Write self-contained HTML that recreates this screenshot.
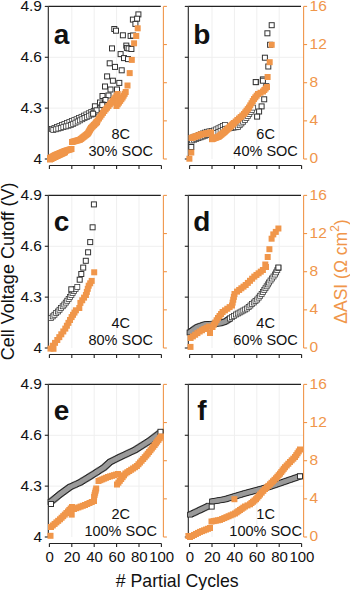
<!DOCTYPE html>
<html><head><meta charset="utf-8"><style>
html,body{margin:0;padding:0;background:#fff;width:350px;height:590px;overflow:hidden}
svg{display:block}
text{font-family:"Liberation Sans", sans-serif}
</style></head><body>
<svg width="350" height="590" viewBox="0 0 350 590" fill="#111">
<line x1="71.80" y1="6.40" x2="71.80" y2="159.00" stroke="#EFEFEF" stroke-width="1"/>
<line x1="94.20" y1="6.40" x2="94.20" y2="159.00" stroke="#EFEFEF" stroke-width="1"/>
<line x1="116.60" y1="6.40" x2="116.60" y2="159.00" stroke="#EFEFEF" stroke-width="1"/>
<line x1="139.00" y1="6.40" x2="139.00" y2="159.00" stroke="#EFEFEF" stroke-width="1"/>
<line x1="48.30" y1="108.13" x2="163.40" y2="108.13" stroke="#EFEFEF" stroke-width="1"/>
<line x1="48.30" y1="57.27" x2="163.40" y2="57.27" stroke="#EFEFEF" stroke-width="1"/>
<line x1="48.30" y1="6.40" x2="48.30" y2="159.00" stroke="#222" stroke-width="1.1"/>
<line x1="44.80" y1="159.00" x2="48.30" y2="159.00" stroke="#222" stroke-width="1.1"/>
<text x="42.00" y="163.60" text-anchor="end" font-size="15.5">4</text>
<line x1="44.80" y1="108.13" x2="48.30" y2="108.13" stroke="#222" stroke-width="1.1"/>
<text x="42.00" y="112.73" text-anchor="end" font-size="15.5">4.3</text>
<line x1="44.80" y1="57.27" x2="48.30" y2="57.27" stroke="#222" stroke-width="1.1"/>
<text x="42.00" y="61.87" text-anchor="end" font-size="15.5">4.6</text>
<line x1="44.80" y1="6.40" x2="48.30" y2="6.40" stroke="#222" stroke-width="1.1"/>
<text x="42.00" y="11.00" text-anchor="end" font-size="15.5">4.9</text>
<line x1="48.30" y1="6.40" x2="160.80" y2="6.40" stroke="#222" stroke-width="1.1"/>
<line x1="163.40" y1="6.40" x2="163.40" y2="159.00" stroke="#F0964A" stroke-width="1.1"/>
<line x1="163.40" y1="159.00" x2="166.90" y2="159.00" stroke="#F0964A" stroke-width="1.1"/>
<line x1="163.40" y1="120.85" x2="166.90" y2="120.85" stroke="#F0964A" stroke-width="1.1"/>
<line x1="163.40" y1="82.70" x2="166.90" y2="82.70" stroke="#F0964A" stroke-width="1.1"/>
<line x1="163.40" y1="44.55" x2="166.90" y2="44.55" stroke="#F0964A" stroke-width="1.1"/>
<line x1="163.40" y1="6.40" x2="166.90" y2="6.40" stroke="#F0964A" stroke-width="1.1"/>
<line x1="49.40" y1="165.50" x2="161.40" y2="165.50" stroke="#222" stroke-width="1.1"/>
<line x1="49.40" y1="165.50" x2="49.40" y2="169.00" stroke="#222" stroke-width="1.1"/>
<line x1="71.80" y1="165.50" x2="71.80" y2="169.00" stroke="#222" stroke-width="1.1"/>
<line x1="94.20" y1="165.50" x2="94.20" y2="169.00" stroke="#222" stroke-width="1.1"/>
<line x1="116.60" y1="165.50" x2="116.60" y2="169.00" stroke="#222" stroke-width="1.1"/>
<line x1="139.00" y1="165.50" x2="139.00" y2="169.00" stroke="#222" stroke-width="1.1"/>
<line x1="161.40" y1="165.50" x2="161.40" y2="169.00" stroke="#222" stroke-width="1.1"/>
<text x="61.60" y="44.40" text-anchor="middle" font-size="28" font-weight="bold">a</text>
<text x="120.70" y="138.50" text-anchor="middle" font-size="14.5">8C</text>
<text x="120.70" y="155.50" text-anchor="middle" font-size="14.5">30% SOC</text>
<line x1="212.00" y1="6.40" x2="212.00" y2="159.00" stroke="#EFEFEF" stroke-width="1"/>
<line x1="234.40" y1="6.40" x2="234.40" y2="159.00" stroke="#EFEFEF" stroke-width="1"/>
<line x1="256.80" y1="6.40" x2="256.80" y2="159.00" stroke="#EFEFEF" stroke-width="1"/>
<line x1="279.20" y1="6.40" x2="279.20" y2="159.00" stroke="#EFEFEF" stroke-width="1"/>
<line x1="188.30" y1="108.13" x2="303.60" y2="108.13" stroke="#EFEFEF" stroke-width="1"/>
<line x1="188.30" y1="57.27" x2="303.60" y2="57.27" stroke="#EFEFEF" stroke-width="1"/>
<line x1="188.30" y1="6.40" x2="188.30" y2="159.00" stroke="#222" stroke-width="1.1"/>
<line x1="184.80" y1="159.00" x2="188.30" y2="159.00" stroke="#222" stroke-width="1.1"/>
<line x1="184.80" y1="108.13" x2="188.30" y2="108.13" stroke="#222" stroke-width="1.1"/>
<line x1="184.80" y1="57.27" x2="188.30" y2="57.27" stroke="#222" stroke-width="1.1"/>
<line x1="184.80" y1="6.40" x2="188.30" y2="6.40" stroke="#222" stroke-width="1.1"/>
<line x1="188.30" y1="6.40" x2="301.00" y2="6.40" stroke="#222" stroke-width="1.1"/>
<line x1="303.60" y1="6.40" x2="303.60" y2="159.00" stroke="#F0964A" stroke-width="1.1"/>
<line x1="303.60" y1="159.00" x2="307.10" y2="159.00" stroke="#F0964A" stroke-width="1.1"/>
<text x="309.60" y="163.30" font-size="15.5" fill="#F0964A">0</text>
<line x1="303.60" y1="120.85" x2="307.10" y2="120.85" stroke="#F0964A" stroke-width="1.1"/>
<text x="309.60" y="125.15" font-size="15.5" fill="#F0964A">4</text>
<line x1="303.60" y1="82.70" x2="307.10" y2="82.70" stroke="#F0964A" stroke-width="1.1"/>
<text x="309.60" y="87.00" font-size="15.5" fill="#F0964A">8</text>
<line x1="303.60" y1="44.55" x2="307.10" y2="44.55" stroke="#F0964A" stroke-width="1.1"/>
<text x="309.60" y="48.85" font-size="15.5" fill="#F0964A">12</text>
<line x1="303.60" y1="6.40" x2="307.10" y2="6.40" stroke="#F0964A" stroke-width="1.1"/>
<text x="309.60" y="10.70" font-size="15.5" fill="#F0964A">16</text>
<line x1="189.60" y1="165.50" x2="301.60" y2="165.50" stroke="#222" stroke-width="1.1"/>
<line x1="189.60" y1="165.50" x2="189.60" y2="169.00" stroke="#222" stroke-width="1.1"/>
<line x1="212.00" y1="165.50" x2="212.00" y2="169.00" stroke="#222" stroke-width="1.1"/>
<line x1="234.40" y1="165.50" x2="234.40" y2="169.00" stroke="#222" stroke-width="1.1"/>
<line x1="256.80" y1="165.50" x2="256.80" y2="169.00" stroke="#222" stroke-width="1.1"/>
<line x1="279.20" y1="165.50" x2="279.20" y2="169.00" stroke="#222" stroke-width="1.1"/>
<line x1="301.60" y1="165.50" x2="301.60" y2="169.00" stroke="#222" stroke-width="1.1"/>
<text x="201.80" y="44.40" text-anchor="middle" font-size="28" font-weight="bold">b</text>
<text x="265.60" y="138.50" text-anchor="middle" font-size="14.5">6C</text>
<text x="265.60" y="155.50" text-anchor="middle" font-size="14.5">40% SOC</text>
<line x1="71.80" y1="195.40" x2="71.80" y2="348.00" stroke="#EFEFEF" stroke-width="1"/>
<line x1="94.20" y1="195.40" x2="94.20" y2="348.00" stroke="#EFEFEF" stroke-width="1"/>
<line x1="116.60" y1="195.40" x2="116.60" y2="348.00" stroke="#EFEFEF" stroke-width="1"/>
<line x1="139.00" y1="195.40" x2="139.00" y2="348.00" stroke="#EFEFEF" stroke-width="1"/>
<line x1="48.30" y1="297.13" x2="163.40" y2="297.13" stroke="#EFEFEF" stroke-width="1"/>
<line x1="48.30" y1="246.27" x2="163.40" y2="246.27" stroke="#EFEFEF" stroke-width="1"/>
<line x1="48.30" y1="195.40" x2="48.30" y2="348.00" stroke="#222" stroke-width="1.1"/>
<line x1="44.80" y1="348.00" x2="48.30" y2="348.00" stroke="#222" stroke-width="1.1"/>
<text x="42.00" y="352.60" text-anchor="end" font-size="15.5">4</text>
<line x1="44.80" y1="297.13" x2="48.30" y2="297.13" stroke="#222" stroke-width="1.1"/>
<text x="42.00" y="301.73" text-anchor="end" font-size="15.5">4.3</text>
<line x1="44.80" y1="246.27" x2="48.30" y2="246.27" stroke="#222" stroke-width="1.1"/>
<text x="42.00" y="250.87" text-anchor="end" font-size="15.5">4.6</text>
<line x1="44.80" y1="195.40" x2="48.30" y2="195.40" stroke="#222" stroke-width="1.1"/>
<text x="42.00" y="200.00" text-anchor="end" font-size="15.5">4.9</text>
<line x1="48.30" y1="195.40" x2="160.80" y2="195.40" stroke="#222" stroke-width="1.1"/>
<line x1="163.40" y1="195.40" x2="163.40" y2="348.00" stroke="#F0964A" stroke-width="1.1"/>
<line x1="163.40" y1="348.00" x2="166.90" y2="348.00" stroke="#F0964A" stroke-width="1.1"/>
<line x1="163.40" y1="309.85" x2="166.90" y2="309.85" stroke="#F0964A" stroke-width="1.1"/>
<line x1="163.40" y1="271.70" x2="166.90" y2="271.70" stroke="#F0964A" stroke-width="1.1"/>
<line x1="163.40" y1="233.55" x2="166.90" y2="233.55" stroke="#F0964A" stroke-width="1.1"/>
<line x1="163.40" y1="195.40" x2="166.90" y2="195.40" stroke="#F0964A" stroke-width="1.1"/>
<line x1="49.40" y1="354.50" x2="161.40" y2="354.50" stroke="#222" stroke-width="1.1"/>
<line x1="49.40" y1="354.50" x2="49.40" y2="358.00" stroke="#222" stroke-width="1.1"/>
<line x1="71.80" y1="354.50" x2="71.80" y2="358.00" stroke="#222" stroke-width="1.1"/>
<line x1="94.20" y1="354.50" x2="94.20" y2="358.00" stroke="#222" stroke-width="1.1"/>
<line x1="116.60" y1="354.50" x2="116.60" y2="358.00" stroke="#222" stroke-width="1.1"/>
<line x1="139.00" y1="354.50" x2="139.00" y2="358.00" stroke="#222" stroke-width="1.1"/>
<line x1="161.40" y1="354.50" x2="161.40" y2="358.00" stroke="#222" stroke-width="1.1"/>
<text x="61.60" y="231.40" text-anchor="middle" font-size="28" font-weight="bold">c</text>
<text x="120.70" y="327.50" text-anchor="middle" font-size="14.5">4C</text>
<text x="120.70" y="344.50" text-anchor="middle" font-size="14.5">80% SOC</text>
<line x1="212.00" y1="195.40" x2="212.00" y2="348.00" stroke="#EFEFEF" stroke-width="1"/>
<line x1="234.40" y1="195.40" x2="234.40" y2="348.00" stroke="#EFEFEF" stroke-width="1"/>
<line x1="256.80" y1="195.40" x2="256.80" y2="348.00" stroke="#EFEFEF" stroke-width="1"/>
<line x1="279.20" y1="195.40" x2="279.20" y2="348.00" stroke="#EFEFEF" stroke-width="1"/>
<line x1="188.30" y1="297.13" x2="303.60" y2="297.13" stroke="#EFEFEF" stroke-width="1"/>
<line x1="188.30" y1="246.27" x2="303.60" y2="246.27" stroke="#EFEFEF" stroke-width="1"/>
<line x1="188.30" y1="195.40" x2="188.30" y2="348.00" stroke="#222" stroke-width="1.1"/>
<line x1="184.80" y1="348.00" x2="188.30" y2="348.00" stroke="#222" stroke-width="1.1"/>
<line x1="184.80" y1="297.13" x2="188.30" y2="297.13" stroke="#222" stroke-width="1.1"/>
<line x1="184.80" y1="246.27" x2="188.30" y2="246.27" stroke="#222" stroke-width="1.1"/>
<line x1="184.80" y1="195.40" x2="188.30" y2="195.40" stroke="#222" stroke-width="1.1"/>
<line x1="188.30" y1="195.40" x2="301.00" y2="195.40" stroke="#222" stroke-width="1.1"/>
<line x1="303.60" y1="195.40" x2="303.60" y2="348.00" stroke="#F0964A" stroke-width="1.1"/>
<line x1="303.60" y1="348.00" x2="307.10" y2="348.00" stroke="#F0964A" stroke-width="1.1"/>
<text x="309.60" y="352.30" font-size="15.5" fill="#F0964A">0</text>
<line x1="303.60" y1="309.85" x2="307.10" y2="309.85" stroke="#F0964A" stroke-width="1.1"/>
<text x="309.60" y="314.15" font-size="15.5" fill="#F0964A">4</text>
<line x1="303.60" y1="271.70" x2="307.10" y2="271.70" stroke="#F0964A" stroke-width="1.1"/>
<text x="309.60" y="276.00" font-size="15.5" fill="#F0964A">8</text>
<line x1="303.60" y1="233.55" x2="307.10" y2="233.55" stroke="#F0964A" stroke-width="1.1"/>
<text x="309.60" y="237.85" font-size="15.5" fill="#F0964A">12</text>
<line x1="303.60" y1="195.40" x2="307.10" y2="195.40" stroke="#F0964A" stroke-width="1.1"/>
<text x="309.60" y="199.70" font-size="15.5" fill="#F0964A">16</text>
<line x1="189.60" y1="354.50" x2="301.60" y2="354.50" stroke="#222" stroke-width="1.1"/>
<line x1="189.60" y1="354.50" x2="189.60" y2="358.00" stroke="#222" stroke-width="1.1"/>
<line x1="212.00" y1="354.50" x2="212.00" y2="358.00" stroke="#222" stroke-width="1.1"/>
<line x1="234.40" y1="354.50" x2="234.40" y2="358.00" stroke="#222" stroke-width="1.1"/>
<line x1="256.80" y1="354.50" x2="256.80" y2="358.00" stroke="#222" stroke-width="1.1"/>
<line x1="279.20" y1="354.50" x2="279.20" y2="358.00" stroke="#222" stroke-width="1.1"/>
<line x1="301.60" y1="354.50" x2="301.60" y2="358.00" stroke="#222" stroke-width="1.1"/>
<text x="201.80" y="231.40" text-anchor="middle" font-size="28" font-weight="bold">d</text>
<text x="265.60" y="327.50" text-anchor="middle" font-size="14.5">4C</text>
<text x="265.60" y="344.50" text-anchor="middle" font-size="14.5">60% SOC</text>
<line x1="71.80" y1="384.40" x2="71.80" y2="537.00" stroke="#EFEFEF" stroke-width="1"/>
<line x1="94.20" y1="384.40" x2="94.20" y2="537.00" stroke="#EFEFEF" stroke-width="1"/>
<line x1="116.60" y1="384.40" x2="116.60" y2="537.00" stroke="#EFEFEF" stroke-width="1"/>
<line x1="139.00" y1="384.40" x2="139.00" y2="537.00" stroke="#EFEFEF" stroke-width="1"/>
<line x1="48.30" y1="486.13" x2="163.40" y2="486.13" stroke="#EFEFEF" stroke-width="1"/>
<line x1="48.30" y1="435.27" x2="163.40" y2="435.27" stroke="#EFEFEF" stroke-width="1"/>
<line x1="48.30" y1="384.40" x2="48.30" y2="537.00" stroke="#222" stroke-width="1.1"/>
<line x1="44.80" y1="537.00" x2="48.30" y2="537.00" stroke="#222" stroke-width="1.1"/>
<text x="42.00" y="541.60" text-anchor="end" font-size="15.5">4</text>
<line x1="44.80" y1="486.13" x2="48.30" y2="486.13" stroke="#222" stroke-width="1.1"/>
<text x="42.00" y="490.73" text-anchor="end" font-size="15.5">4.3</text>
<line x1="44.80" y1="435.27" x2="48.30" y2="435.27" stroke="#222" stroke-width="1.1"/>
<text x="42.00" y="439.87" text-anchor="end" font-size="15.5">4.6</text>
<line x1="44.80" y1="384.40" x2="48.30" y2="384.40" stroke="#222" stroke-width="1.1"/>
<text x="42.00" y="389.00" text-anchor="end" font-size="15.5">4.9</text>
<line x1="48.30" y1="384.40" x2="160.80" y2="384.40" stroke="#222" stroke-width="1.1"/>
<line x1="163.40" y1="384.40" x2="163.40" y2="537.00" stroke="#F0964A" stroke-width="1.1"/>
<line x1="163.40" y1="537.00" x2="166.90" y2="537.00" stroke="#F0964A" stroke-width="1.1"/>
<line x1="163.40" y1="498.85" x2="166.90" y2="498.85" stroke="#F0964A" stroke-width="1.1"/>
<line x1="163.40" y1="460.70" x2="166.90" y2="460.70" stroke="#F0964A" stroke-width="1.1"/>
<line x1="163.40" y1="422.55" x2="166.90" y2="422.55" stroke="#F0964A" stroke-width="1.1"/>
<line x1="163.40" y1="384.40" x2="166.90" y2="384.40" stroke="#F0964A" stroke-width="1.1"/>
<line x1="49.40" y1="543.50" x2="161.40" y2="543.50" stroke="#222" stroke-width="1.1"/>
<line x1="49.40" y1="543.50" x2="49.40" y2="547.00" stroke="#222" stroke-width="1.1"/>
<text x="49.70" y="561.50" text-anchor="middle" font-size="15">0</text>
<line x1="71.80" y1="543.50" x2="71.80" y2="547.00" stroke="#222" stroke-width="1.1"/>
<text x="72.10" y="561.50" text-anchor="middle" font-size="15">20</text>
<line x1="94.20" y1="543.50" x2="94.20" y2="547.00" stroke="#222" stroke-width="1.1"/>
<text x="94.50" y="561.50" text-anchor="middle" font-size="15">40</text>
<line x1="116.60" y1="543.50" x2="116.60" y2="547.00" stroke="#222" stroke-width="1.1"/>
<text x="116.90" y="561.50" text-anchor="middle" font-size="15">60</text>
<line x1="139.00" y1="543.50" x2="139.00" y2="547.00" stroke="#222" stroke-width="1.1"/>
<text x="139.30" y="561.50" text-anchor="middle" font-size="15">80</text>
<line x1="161.40" y1="543.50" x2="161.40" y2="547.00" stroke="#222" stroke-width="1.1"/>
<text x="161.70" y="561.50" text-anchor="middle" font-size="15">100</text>
<text x="61.60" y="420.40" text-anchor="middle" font-size="28" font-weight="bold">e</text>
<text x="120.70" y="518.50" text-anchor="middle" font-size="14.5">2C</text>
<text x="120.70" y="535.50" text-anchor="middle" font-size="14.5">100% SOC</text>
<line x1="212.00" y1="384.40" x2="212.00" y2="537.00" stroke="#EFEFEF" stroke-width="1"/>
<line x1="234.40" y1="384.40" x2="234.40" y2="537.00" stroke="#EFEFEF" stroke-width="1"/>
<line x1="256.80" y1="384.40" x2="256.80" y2="537.00" stroke="#EFEFEF" stroke-width="1"/>
<line x1="279.20" y1="384.40" x2="279.20" y2="537.00" stroke="#EFEFEF" stroke-width="1"/>
<line x1="188.30" y1="486.13" x2="303.60" y2="486.13" stroke="#EFEFEF" stroke-width="1"/>
<line x1="188.30" y1="435.27" x2="303.60" y2="435.27" stroke="#EFEFEF" stroke-width="1"/>
<line x1="188.30" y1="384.40" x2="188.30" y2="537.00" stroke="#222" stroke-width="1.1"/>
<line x1="184.80" y1="537.00" x2="188.30" y2="537.00" stroke="#222" stroke-width="1.1"/>
<line x1="184.80" y1="486.13" x2="188.30" y2="486.13" stroke="#222" stroke-width="1.1"/>
<line x1="184.80" y1="435.27" x2="188.30" y2="435.27" stroke="#222" stroke-width="1.1"/>
<line x1="184.80" y1="384.40" x2="188.30" y2="384.40" stroke="#222" stroke-width="1.1"/>
<line x1="188.30" y1="384.40" x2="301.00" y2="384.40" stroke="#222" stroke-width="1.1"/>
<line x1="303.60" y1="384.40" x2="303.60" y2="537.00" stroke="#F0964A" stroke-width="1.1"/>
<line x1="303.60" y1="537.00" x2="307.10" y2="537.00" stroke="#F0964A" stroke-width="1.1"/>
<text x="309.60" y="541.30" font-size="15.5" fill="#F0964A">0</text>
<line x1="303.60" y1="498.85" x2="307.10" y2="498.85" stroke="#F0964A" stroke-width="1.1"/>
<text x="309.60" y="503.15" font-size="15.5" fill="#F0964A">4</text>
<line x1="303.60" y1="460.70" x2="307.10" y2="460.70" stroke="#F0964A" stroke-width="1.1"/>
<text x="309.60" y="465.00" font-size="15.5" fill="#F0964A">8</text>
<line x1="303.60" y1="422.55" x2="307.10" y2="422.55" stroke="#F0964A" stroke-width="1.1"/>
<text x="309.60" y="426.85" font-size="15.5" fill="#F0964A">12</text>
<line x1="303.60" y1="384.40" x2="307.10" y2="384.40" stroke="#F0964A" stroke-width="1.1"/>
<text x="309.60" y="388.70" font-size="15.5" fill="#F0964A">16</text>
<line x1="189.60" y1="543.50" x2="301.60" y2="543.50" stroke="#222" stroke-width="1.1"/>
<line x1="189.60" y1="543.50" x2="189.60" y2="547.00" stroke="#222" stroke-width="1.1"/>
<text x="189.90" y="561.50" text-anchor="middle" font-size="15">0</text>
<line x1="212.00" y1="543.50" x2="212.00" y2="547.00" stroke="#222" stroke-width="1.1"/>
<text x="212.30" y="561.50" text-anchor="middle" font-size="15">20</text>
<line x1="234.40" y1="543.50" x2="234.40" y2="547.00" stroke="#222" stroke-width="1.1"/>
<text x="234.70" y="561.50" text-anchor="middle" font-size="15">40</text>
<line x1="256.80" y1="543.50" x2="256.80" y2="547.00" stroke="#222" stroke-width="1.1"/>
<text x="257.10" y="561.50" text-anchor="middle" font-size="15">60</text>
<line x1="279.20" y1="543.50" x2="279.20" y2="547.00" stroke="#222" stroke-width="1.1"/>
<text x="279.50" y="561.50" text-anchor="middle" font-size="15">80</text>
<line x1="301.60" y1="543.50" x2="301.60" y2="547.00" stroke="#222" stroke-width="1.1"/>
<text x="301.90" y="561.50" text-anchor="middle" font-size="15">100</text>
<text x="201.80" y="420.40" text-anchor="middle" font-size="28" font-weight="bold">f</text>
<text x="265.60" y="518.50" text-anchor="middle" font-size="14.5">1C</text>
<text x="265.60" y="535.50" text-anchor="middle" font-size="14.5">100% SOC</text>
<text transform="translate(13.8,271.3) rotate(-90)" text-anchor="middle" font-size="18">Cell Voltage Cutoff (V)</text>
<text transform="translate(346.8,271.5) rotate(-90)" text-anchor="middle" font-size="17.5" fill="#F0964A">&#916;ASI (&#937; cm<tspan font-size="12" dy="-7.5">2</tspan><tspan dy="7.5">)</tspan></text>
<text x="177.2" y="586.8" text-anchor="middle" font-size="17.7"># Partial Cycles</text>
<g fill="#fff" stroke="#333" stroke-width="0.75">
<rect x="49.50" y="126.50" width="5" height="5"/>
<rect x="51.99" y="125.50" width="5" height="5"/>
<rect x="54.47" y="124.50" width="5" height="5"/>
<rect x="56.96" y="123.50" width="5" height="5"/>
<rect x="59.44" y="122.50" width="5" height="5"/>
<rect x="61.93" y="121.50" width="5" height="5"/>
<rect x="64.41" y="120.50" width="5" height="5"/>
<rect x="66.90" y="119.50" width="5" height="5"/>
<rect x="69.30" y="118.57" width="5" height="5"/>
<rect x="71.70" y="117.63" width="5" height="5"/>
<rect x="74.10" y="116.70" width="5" height="5"/>
<rect x="76.54" y="115.51" width="5" height="5"/>
<rect x="78.99" y="114.33" width="5" height="5"/>
<rect x="81.43" y="113.14" width="5" height="5"/>
<rect x="83.87" y="111.96" width="5" height="5"/>
<rect x="86.31" y="110.77" width="5" height="5"/>
<rect x="88.76" y="109.59" width="5" height="5"/>
<rect x="91.20" y="108.40" width="5" height="5"/>
<rect x="92.85" y="107.20" width="5" height="5"/>
<rect x="94.50" y="106.00" width="5" height="5"/>
</g>
<g fill="#fff" stroke="#333" stroke-width="0.75">
<rect x="50.80" y="127.50" width="5" height="5"/>
<rect x="53.31" y="126.79" width="5" height="5"/>
<rect x="55.83" y="126.07" width="5" height="5"/>
<rect x="58.34" y="125.36" width="5" height="5"/>
<rect x="60.86" y="124.64" width="5" height="5"/>
<rect x="63.37" y="123.93" width="5" height="5"/>
<rect x="65.89" y="123.21" width="5" height="5"/>
<rect x="68.40" y="122.50" width="5" height="5"/>
<rect x="70.68" y="121.34" width="5" height="5"/>
<rect x="72.96" y="120.18" width="5" height="5"/>
<rect x="75.24" y="119.02" width="5" height="5"/>
<rect x="77.52" y="117.86" width="5" height="5"/>
<rect x="79.80" y="116.70" width="5" height="5"/>
<rect x="82.08" y="115.54" width="5" height="5"/>
<rect x="84.36" y="114.38" width="5" height="5"/>
<rect x="86.64" y="113.22" width="5" height="5"/>
<rect x="88.92" y="112.06" width="5" height="5"/>
<rect x="91.20" y="110.90" width="5" height="5"/>
<rect x="94.50" y="109.00" width="5" height="5"/>
</g>
<g fill="#fff" stroke="#333" stroke-width="1.0">
<rect x="135.90" y="11.90" width="5" height="5"/>
<rect x="130.40" y="17.10" width="5" height="5"/>
<rect x="134.60" y="16.20" width="5" height="5"/>
<rect x="132.90" y="21.40" width="5" height="5"/>
<rect x="111.80" y="26.50" width="5" height="5"/>
<rect x="113.50" y="28.20" width="5" height="5"/>
<rect x="120.40" y="32.80" width="5" height="5"/>
<rect x="128.10" y="33.40" width="5" height="5"/>
<rect x="130.60" y="33.00" width="5" height="5"/>
<rect x="109.50" y="45.90" width="5" height="5"/>
<rect x="123.80" y="43.10" width="5" height="5"/>
<rect x="124.40" y="45.40" width="5" height="5"/>
<rect x="126.10" y="45.90" width="5" height="5"/>
<rect x="128.90" y="46.50" width="5" height="5"/>
<rect x="118.10" y="51.60" width="5" height="5"/>
<rect x="121.50" y="55.60" width="5" height="5"/>
<rect x="125.50" y="56.60" width="5" height="5"/>
<rect x="107.20" y="60.80" width="5" height="5"/>
<rect x="112.50" y="64.40" width="5" height="5"/>
<rect x="119.20" y="67.80" width="5" height="5"/>
<rect x="104.60" y="73.90" width="5" height="5"/>
<rect x="110.40" y="78.20" width="5" height="5"/>
<rect x="116.80" y="80.40" width="5" height="5"/>
<rect x="102.50" y="84.00" width="5" height="5"/>
<rect x="108.00" y="87.00" width="5" height="5"/>
<rect x="114.50" y="87.00" width="5" height="5"/>
<rect x="100.00" y="93.50" width="5" height="5"/>
<rect x="106.00" y="93.00" width="5" height="5"/>
<rect x="97.50" y="100.00" width="5" height="5"/>
<rect x="103.00" y="97.50" width="5" height="5"/>
<rect x="100.00" y="102.00" width="5" height="5"/>
<rect x="97.00" y="106.00" width="5" height="5"/>
<rect x="92.40" y="103.80" width="5" height="5"/>
<rect x="94.10" y="107.80" width="5" height="5"/>
<rect x="90.60" y="111.20" width="5" height="5"/>
<rect x="99.80" y="102.60" width="5" height="5"/>
</g>
<g fill="#F0964A">
<rect x="47.00" y="155.00" width="6" height="6"/>
<rect x="48.00" y="154.44" width="6" height="6"/>
<rect x="49.00" y="153.88" width="6" height="6"/>
<rect x="50.00" y="153.32" width="6" height="6"/>
<rect x="51.00" y="152.76" width="6" height="6"/>
<rect x="52.00" y="152.20" width="6" height="6"/>
<rect x="53.00" y="151.78" width="6" height="6"/>
<rect x="54.00" y="151.36" width="6" height="6"/>
<rect x="55.00" y="150.94" width="6" height="6"/>
<rect x="56.00" y="150.52" width="6" height="6"/>
<rect x="57.00" y="150.10" width="6" height="6"/>
<rect x="58.00" y="149.68" width="6" height="6"/>
<rect x="59.00" y="149.26" width="6" height="6"/>
<rect x="60.00" y="148.84" width="6" height="6"/>
<rect x="61.00" y="148.42" width="6" height="6"/>
<rect x="62.00" y="148.00" width="6" height="6"/>
<rect x="63.08" y="147.67" width="6" height="6"/>
<rect x="64.17" y="147.33" width="6" height="6"/>
<rect x="65.25" y="147.00" width="6" height="6"/>
<rect x="66.33" y="146.67" width="6" height="6"/>
<rect x="67.42" y="146.33" width="6" height="6"/>
<rect x="68.50" y="146.00" width="6" height="6"/>
<rect x="47.00" y="156.50" width="6" height="6"/>
<rect x="48.00" y="156.00" width="6" height="6"/>
<rect x="49.00" y="155.50" width="6" height="6"/>
<rect x="50.00" y="155.00" width="6" height="6"/>
<rect x="51.00" y="154.50" width="6" height="6"/>
<rect x="52.00" y="154.00" width="6" height="6"/>
<rect x="53.00" y="153.53" width="6" height="6"/>
<rect x="54.00" y="153.06" width="6" height="6"/>
<rect x="55.00" y="152.59" width="6" height="6"/>
<rect x="56.00" y="152.12" width="6" height="6"/>
<rect x="57.00" y="151.65" width="6" height="6"/>
<rect x="58.00" y="151.18" width="6" height="6"/>
<rect x="59.00" y="150.71" width="6" height="6"/>
<rect x="60.00" y="150.24" width="6" height="6"/>
<rect x="61.00" y="149.77" width="6" height="6"/>
<rect x="62.00" y="149.30" width="6" height="6"/>
<rect x="69.00" y="139.00" width="6" height="6"/>
<rect x="70.14" y="138.67" width="6" height="6"/>
<rect x="71.29" y="138.34" width="6" height="6"/>
<rect x="72.43" y="138.01" width="6" height="6"/>
<rect x="73.57" y="137.69" width="6" height="6"/>
<rect x="74.71" y="137.36" width="6" height="6"/>
<rect x="75.86" y="137.03" width="6" height="6"/>
<rect x="77.00" y="136.70" width="6" height="6"/>
<rect x="77.88" y="136.01" width="6" height="6"/>
<rect x="78.76" y="135.32" width="6" height="6"/>
<rect x="79.63" y="134.63" width="6" height="6"/>
<rect x="80.51" y="133.94" width="6" height="6"/>
<rect x="81.39" y="133.26" width="6" height="6"/>
<rect x="82.27" y="132.57" width="6" height="6"/>
<rect x="83.14" y="131.88" width="6" height="6"/>
<rect x="84.02" y="131.19" width="6" height="6"/>
<rect x="84.90" y="130.50" width="6" height="6"/>
<rect x="85.42" y="129.58" width="6" height="6"/>
<rect x="85.93" y="128.67" width="6" height="6"/>
<rect x="86.45" y="127.75" width="6" height="6"/>
<rect x="86.97" y="126.83" width="6" height="6"/>
<rect x="87.48" y="125.92" width="6" height="6"/>
<rect x="88.00" y="125.00" width="6" height="6"/>
<rect x="88.75" y="124.25" width="6" height="6"/>
<rect x="89.50" y="123.50" width="6" height="6"/>
<rect x="90.25" y="122.75" width="6" height="6"/>
<rect x="91.00" y="122.00" width="6" height="6"/>
<rect x="91.75" y="121.25" width="6" height="6"/>
<rect x="92.50" y="120.50" width="6" height="6"/>
<rect x="93.25" y="119.75" width="6" height="6"/>
<rect x="94.00" y="119.00" width="6" height="6"/>
<rect x="93.30" y="119.30" width="6" height="6"/>
<rect x="94.63" y="117.42" width="6" height="6"/>
<rect x="95.97" y="115.53" width="6" height="6"/>
<rect x="97.30" y="113.65" width="6" height="6"/>
<rect x="98.63" y="111.77" width="6" height="6"/>
<rect x="99.97" y="109.88" width="6" height="6"/>
<rect x="101.30" y="108.00" width="6" height="6"/>
<rect x="102.69" y="106.34" width="6" height="6"/>
<rect x="104.07" y="104.69" width="6" height="6"/>
<rect x="105.46" y="103.03" width="6" height="6"/>
<rect x="106.84" y="101.37" width="6" height="6"/>
<rect x="108.23" y="99.71" width="6" height="6"/>
<rect x="109.61" y="98.06" width="6" height="6"/>
<rect x="111.00" y="96.40" width="6" height="6"/>
<rect x="112.23" y="94.60" width="6" height="6"/>
<rect x="113.47" y="92.80" width="6" height="6"/>
<rect x="114.70" y="91.00" width="6" height="6"/>
<rect x="113.50" y="103.00" width="6" height="6"/>
<rect x="114.72" y="101.30" width="6" height="6"/>
<rect x="115.94" y="99.60" width="6" height="6"/>
<rect x="117.16" y="97.90" width="6" height="6"/>
<rect x="118.38" y="96.20" width="6" height="6"/>
<rect x="119.60" y="94.50" width="6" height="6"/>
<rect x="120.63" y="92.67" width="6" height="6"/>
<rect x="121.67" y="90.83" width="6" height="6"/>
<rect x="122.70" y="89.00" width="6" height="6"/>
<rect x="134.70" y="25.30" width="6" height="6"/>
<rect x="133.20" y="33.00" width="6" height="6"/>
<rect x="131.10" y="40.30" width="6" height="6"/>
<rect x="128.80" y="56.90" width="6" height="6"/>
<rect x="126.70" y="70.10" width="6" height="6"/>
<rect x="124.50" y="82.50" width="6" height="6"/>
</g>
<g fill="#fff" stroke="#333" stroke-width="0.75">
<rect x="190.00" y="135.00" width="5" height="5"/>
<rect x="192.07" y="134.19" width="5" height="5"/>
<rect x="194.14" y="133.37" width="5" height="5"/>
<rect x="196.21" y="132.56" width="5" height="5"/>
<rect x="198.29" y="131.74" width="5" height="5"/>
<rect x="200.36" y="130.93" width="5" height="5"/>
<rect x="202.43" y="130.11" width="5" height="5"/>
<rect x="204.50" y="129.30" width="5" height="5"/>
<rect x="206.83" y="128.87" width="5" height="5"/>
<rect x="209.17" y="128.43" width="5" height="5"/>
<rect x="211.50" y="128.00" width="5" height="5"/>
<rect x="213.70" y="126.90" width="5" height="5"/>
<rect x="215.90" y="125.80" width="5" height="5"/>
<rect x="218.10" y="124.70" width="5" height="5"/>
<rect x="220.30" y="123.60" width="5" height="5"/>
<rect x="222.50" y="122.50" width="5" height="5"/>
</g>
<g fill="#fff" stroke="#333" stroke-width="0.75">
<rect x="189.50" y="138.00" width="5" height="5"/>
<rect x="191.64" y="137.21" width="5" height="5"/>
<rect x="193.79" y="136.43" width="5" height="5"/>
<rect x="195.93" y="135.64" width="5" height="5"/>
<rect x="198.07" y="134.86" width="5" height="5"/>
<rect x="200.21" y="134.07" width="5" height="5"/>
<rect x="202.36" y="133.29" width="5" height="5"/>
<rect x="204.50" y="132.50" width="5" height="5"/>
<rect x="206.83" y="132.17" width="5" height="5"/>
<rect x="209.17" y="131.83" width="5" height="5"/>
<rect x="211.50" y="131.50" width="5" height="5"/>
<rect x="213.70" y="130.50" width="5" height="5"/>
<rect x="215.90" y="129.50" width="5" height="5"/>
<rect x="218.10" y="128.50" width="5" height="5"/>
<rect x="220.30" y="127.50" width="5" height="5"/>
<rect x="222.50" y="126.50" width="5" height="5"/>
<rect x="224.65" y="126.15" width="5" height="5"/>
<rect x="226.80" y="125.80" width="5" height="5"/>
<rect x="228.95" y="125.45" width="5" height="5"/>
<rect x="231.10" y="125.10" width="5" height="5"/>
<rect x="233.25" y="124.75" width="5" height="5"/>
<rect x="235.40" y="124.40" width="5" height="5"/>
<rect x="237.15" y="122.68" width="5" height="5"/>
<rect x="238.90" y="120.95" width="5" height="5"/>
<rect x="240.65" y="119.22" width="5" height="5"/>
<rect x="242.40" y="117.50" width="5" height="5"/>
<rect x="243.85" y="115.53" width="5" height="5"/>
<rect x="245.30" y="113.55" width="5" height="5"/>
<rect x="246.75" y="111.57" width="5" height="5"/>
<rect x="248.20" y="109.60" width="5" height="5"/>
<rect x="249.35" y="107.35" width="5" height="5"/>
<rect x="250.50" y="105.10" width="5" height="5"/>
</g>
<g fill="#fff" stroke="#333" stroke-width="1.0">
<rect x="188.80" y="144.50" width="5" height="5"/>
<rect x="269.20" y="22.70" width="5" height="5"/>
<rect x="264.90" y="30.80" width="5" height="5"/>
<rect x="267.60" y="42.30" width="5" height="5"/>
<rect x="262.40" y="55.20" width="5" height="5"/>
<rect x="265.80" y="64.00" width="5" height="5"/>
<rect x="260.40" y="76.90" width="5" height="5"/>
<rect x="253.60" y="79.60" width="5" height="5"/>
<rect x="263.80" y="83.70" width="5" height="5"/>
<rect x="253.20" y="79.60" width="5" height="5"/>
<rect x="260.40" y="78.20" width="5" height="5"/>
<rect x="261.70" y="96.80" width="5" height="5"/>
<rect x="259.10" y="103.90" width="5" height="5"/>
<rect x="256.60" y="109.00" width="5" height="5"/>
<rect x="254.60" y="114.10" width="5" height="5"/>
</g>
<g fill="#F0964A">
<rect x="188.50" y="135.00" width="6" height="6"/>
<rect x="189.54" y="134.61" width="6" height="6"/>
<rect x="190.59" y="134.22" width="6" height="6"/>
<rect x="191.63" y="133.83" width="6" height="6"/>
<rect x="192.68" y="133.44" width="6" height="6"/>
<rect x="193.72" y="133.06" width="6" height="6"/>
<rect x="194.77" y="132.67" width="6" height="6"/>
<rect x="195.81" y="132.28" width="6" height="6"/>
<rect x="196.86" y="131.89" width="6" height="6"/>
<rect x="197.90" y="131.50" width="6" height="6"/>
<rect x="199.02" y="131.28" width="6" height="6"/>
<rect x="200.14" y="131.06" width="6" height="6"/>
<rect x="201.27" y="130.83" width="6" height="6"/>
<rect x="202.39" y="130.61" width="6" height="6"/>
<rect x="203.51" y="130.39" width="6" height="6"/>
<rect x="204.63" y="130.17" width="6" height="6"/>
<rect x="205.76" y="129.94" width="6" height="6"/>
<rect x="206.88" y="129.72" width="6" height="6"/>
<rect x="208.00" y="129.50" width="6" height="6"/>
<rect x="209.00" y="136.20" width="6" height="6"/>
<rect x="210.00" y="135.81" width="6" height="6"/>
<rect x="211.00" y="135.43" width="6" height="6"/>
<rect x="212.00" y="135.04" width="6" height="6"/>
<rect x="213.00" y="134.66" width="6" height="6"/>
<rect x="214.00" y="134.27" width="6" height="6"/>
<rect x="215.00" y="133.89" width="6" height="6"/>
<rect x="216.00" y="133.50" width="6" height="6"/>
<rect x="216.86" y="132.79" width="6" height="6"/>
<rect x="217.71" y="132.07" width="6" height="6"/>
<rect x="218.57" y="131.36" width="6" height="6"/>
<rect x="219.43" y="130.64" width="6" height="6"/>
<rect x="220.29" y="129.93" width="6" height="6"/>
<rect x="221.14" y="129.21" width="6" height="6"/>
<rect x="222.00" y="128.50" width="6" height="6"/>
<rect x="222.82" y="127.73" width="6" height="6"/>
<rect x="223.64" y="126.95" width="6" height="6"/>
<rect x="224.45" y="126.18" width="6" height="6"/>
<rect x="225.27" y="125.41" width="6" height="6"/>
<rect x="226.09" y="124.64" width="6" height="6"/>
<rect x="226.91" y="123.86" width="6" height="6"/>
<rect x="227.73" y="123.09" width="6" height="6"/>
<rect x="228.55" y="122.32" width="6" height="6"/>
<rect x="229.36" y="121.55" width="6" height="6"/>
<rect x="230.18" y="120.77" width="6" height="6"/>
<rect x="231.00" y="120.00" width="6" height="6"/>
<rect x="231.00" y="120.00" width="6" height="6"/>
<rect x="232.67" y="118.50" width="6" height="6"/>
<rect x="234.33" y="117.00" width="6" height="6"/>
<rect x="236.00" y="115.50" width="6" height="6"/>
<rect x="237.67" y="114.00" width="6" height="6"/>
<rect x="239.33" y="112.50" width="6" height="6"/>
<rect x="241.00" y="111.00" width="6" height="6"/>
<rect x="242.25" y="109.38" width="6" height="6"/>
<rect x="243.50" y="107.75" width="6" height="6"/>
<rect x="244.75" y="106.12" width="6" height="6"/>
<rect x="246.00" y="104.50" width="6" height="6"/>
<rect x="247.25" y="102.38" width="6" height="6"/>
<rect x="248.50" y="100.25" width="6" height="6"/>
<rect x="249.75" y="98.12" width="6" height="6"/>
<rect x="251.00" y="96.00" width="6" height="6"/>
<rect x="252.33" y="94.33" width="6" height="6"/>
<rect x="253.67" y="92.67" width="6" height="6"/>
<rect x="255.00" y="91.00" width="6" height="6"/>
<rect x="257.50" y="89.75" width="6" height="6"/>
<rect x="260.00" y="88.50" width="6" height="6"/>
<rect x="261.33" y="87.00" width="6" height="6"/>
<rect x="262.67" y="85.50" width="6" height="6"/>
<rect x="264.00" y="84.00" width="6" height="6"/>
<rect x="186.40" y="155.70" width="6" height="6"/>
<rect x="188.30" y="149.50" width="6" height="6"/>
<rect x="268.70" y="41.80" width="6" height="6"/>
<rect x="266.70" y="59.20" width="6" height="6"/>
<rect x="264.60" y="74.00" width="6" height="6"/>
</g>
<g fill="#fff" stroke="#333" stroke-width="0.75">
<rect x="48.50" y="315.50" width="5" height="5"/>
<rect x="50.23" y="313.88" width="5" height="5"/>
<rect x="51.95" y="312.25" width="5" height="5"/>
<rect x="53.67" y="310.62" width="5" height="5"/>
<rect x="55.40" y="309.00" width="5" height="5"/>
<rect x="57.00" y="307.25" width="5" height="5"/>
<rect x="58.60" y="305.50" width="5" height="5"/>
<rect x="60.20" y="303.75" width="5" height="5"/>
<rect x="61.80" y="302.00" width="5" height="5"/>
<rect x="63.25" y="300.12" width="5" height="5"/>
<rect x="64.70" y="298.25" width="5" height="5"/>
<rect x="66.15" y="296.38" width="5" height="5"/>
<rect x="67.60" y="294.50" width="5" height="5"/>
<rect x="68.87" y="292.50" width="5" height="5"/>
<rect x="70.13" y="290.50" width="5" height="5"/>
<rect x="71.40" y="288.50" width="5" height="5"/>
<rect x="73.10" y="286.45" width="5" height="5"/>
<rect x="74.80" y="284.40" width="5" height="5"/>
</g>
<g fill="#fff" stroke="#333" stroke-width="1.0">
<rect x="68.80" y="286.80" width="5" height="5"/>
<rect x="77.20" y="277.20" width="5" height="5"/>
<rect x="78.80" y="271.50" width="5" height="5"/>
<rect x="80.70" y="265.10" width="5" height="5"/>
<rect x="83.30" y="258.30" width="5" height="5"/>
<rect x="85.60" y="249.80" width="5" height="5"/>
<rect x="87.70" y="239.60" width="5" height="5"/>
<rect x="90.10" y="224.80" width="5" height="5"/>
<rect x="91.40" y="201.90" width="5" height="5"/>
</g>
<g fill="#F0964A">
<rect x="47.50" y="345.60" width="6" height="6"/>
<rect x="49.77" y="342.73" width="6" height="6"/>
<rect x="52.03" y="339.87" width="6" height="6"/>
<rect x="54.30" y="337.00" width="6" height="6"/>
<rect x="56.30" y="334.15" width="6" height="6"/>
<rect x="58.30" y="331.30" width="6" height="6"/>
<rect x="60.30" y="328.45" width="6" height="6"/>
<rect x="62.30" y="325.60" width="6" height="6"/>
<rect x="63.88" y="322.73" width="6" height="6"/>
<rect x="65.45" y="319.85" width="6" height="6"/>
<rect x="67.02" y="316.98" width="6" height="6"/>
<rect x="68.60" y="314.10" width="6" height="6"/>
<rect x="70.03" y="311.83" width="6" height="6"/>
<rect x="71.47" y="309.57" width="6" height="6"/>
<rect x="72.90" y="307.30" width="6" height="6"/>
<rect x="76.30" y="305.00" width="6" height="6"/>
<rect x="77.40" y="299.90" width="6" height="6"/>
<rect x="79.23" y="297.27" width="6" height="6"/>
<rect x="81.07" y="294.63" width="6" height="6"/>
<rect x="82.90" y="292.00" width="6" height="6"/>
<rect x="83.83" y="288.90" width="6" height="6"/>
<rect x="84.77" y="285.80" width="6" height="6"/>
<rect x="85.70" y="282.70" width="6" height="6"/>
<rect x="87.20" y="280.30" width="6" height="6"/>
<rect x="88.70" y="277.90" width="6" height="6"/>
<rect x="91.20" y="269.30" width="6" height="6"/>
<rect x="50.50" y="345.80" width="6" height="6"/>
</g>
<g fill="#262626">
<rect x="186.65" y="329.65" width="5.7" height="5.7"/>
<rect x="187.78" y="328.86" width="5.7" height="5.7"/>
<rect x="188.91" y="328.08" width="5.7" height="5.7"/>
<rect x="190.04" y="327.29" width="5.7" height="5.7"/>
<rect x="191.16" y="326.51" width="5.7" height="5.7"/>
<rect x="192.29" y="325.72" width="5.7" height="5.7"/>
<rect x="193.42" y="324.94" width="5.7" height="5.7"/>
<rect x="194.55" y="324.15" width="5.7" height="5.7"/>
<rect x="195.88" y="323.70" width="5.7" height="5.7"/>
<rect x="197.22" y="323.25" width="5.7" height="5.7"/>
<rect x="198.55" y="322.80" width="5.7" height="5.7"/>
<rect x="199.88" y="322.35" width="5.7" height="5.7"/>
<rect x="201.22" y="321.90" width="5.7" height="5.7"/>
<rect x="202.55" y="321.45" width="5.7" height="5.7"/>
<rect x="203.93" y="321.35" width="5.7" height="5.7"/>
<rect x="205.31" y="321.25" width="5.7" height="5.7"/>
<rect x="206.69" y="321.15" width="5.7" height="5.7"/>
<rect x="208.07" y="321.05" width="5.7" height="5.7"/>
<rect x="209.45" y="320.95" width="5.7" height="5.7"/>
<rect x="210.78" y="320.87" width="5.7" height="5.7"/>
<rect x="212.12" y="320.78" width="5.7" height="5.7"/>
<rect x="213.45" y="320.70" width="5.7" height="5.7"/>
<rect x="214.78" y="320.62" width="5.7" height="5.7"/>
<rect x="216.12" y="320.53" width="5.7" height="5.7"/>
<rect x="217.45" y="320.45" width="5.7" height="5.7"/>
<rect x="218.73" y="320.00" width="5.7" height="5.7"/>
<rect x="220.00" y="319.55" width="5.7" height="5.7"/>
<rect x="221.28" y="319.10" width="5.7" height="5.7"/>
<rect x="222.55" y="318.65" width="5.7" height="5.7"/>
<rect x="223.70" y="317.90" width="5.7" height="5.7"/>
<rect x="224.85" y="317.15" width="5.7" height="5.7"/>
<rect x="226.00" y="316.40" width="5.7" height="5.7"/>
<rect x="227.15" y="315.65" width="5.7" height="5.7"/>
</g>
<g fill="#9a9a9a">
<rect x="187.50" y="330.50" width="4.0" height="4.0"/>
<rect x="188.63" y="329.71" width="4.0" height="4.0"/>
<rect x="189.76" y="328.93" width="4.0" height="4.0"/>
<rect x="190.89" y="328.14" width="4.0" height="4.0"/>
<rect x="192.01" y="327.36" width="4.0" height="4.0"/>
<rect x="193.14" y="326.57" width="4.0" height="4.0"/>
<rect x="194.27" y="325.79" width="4.0" height="4.0"/>
<rect x="195.40" y="325.00" width="4.0" height="4.0"/>
<rect x="196.73" y="324.55" width="4.0" height="4.0"/>
<rect x="198.07" y="324.10" width="4.0" height="4.0"/>
<rect x="199.40" y="323.65" width="4.0" height="4.0"/>
<rect x="200.73" y="323.20" width="4.0" height="4.0"/>
<rect x="202.07" y="322.75" width="4.0" height="4.0"/>
<rect x="203.40" y="322.30" width="4.0" height="4.0"/>
<rect x="204.78" y="322.20" width="4.0" height="4.0"/>
<rect x="206.16" y="322.10" width="4.0" height="4.0"/>
<rect x="207.54" y="322.00" width="4.0" height="4.0"/>
<rect x="208.92" y="321.90" width="4.0" height="4.0"/>
<rect x="210.30" y="321.80" width="4.0" height="4.0"/>
<rect x="211.63" y="321.72" width="4.0" height="4.0"/>
<rect x="212.97" y="321.63" width="4.0" height="4.0"/>
<rect x="214.30" y="321.55" width="4.0" height="4.0"/>
<rect x="215.63" y="321.47" width="4.0" height="4.0"/>
<rect x="216.97" y="321.38" width="4.0" height="4.0"/>
<rect x="218.30" y="321.30" width="4.0" height="4.0"/>
<rect x="219.58" y="320.85" width="4.0" height="4.0"/>
<rect x="220.85" y="320.40" width="4.0" height="4.0"/>
<rect x="222.12" y="319.95" width="4.0" height="4.0"/>
<rect x="223.40" y="319.50" width="4.0" height="4.0"/>
<rect x="224.55" y="318.75" width="4.0" height="4.0"/>
<rect x="225.70" y="318.00" width="4.0" height="4.0"/>
<rect x="226.85" y="317.25" width="4.0" height="4.0"/>
<rect x="228.00" y="316.50" width="4.0" height="4.0"/>
</g>
<g fill="#fff" stroke="#333" stroke-width="0.75">
<rect x="227.50" y="316.00" width="5" height="5"/>
<rect x="229.50" y="314.67" width="5" height="5"/>
<rect x="231.50" y="313.33" width="5" height="5"/>
<rect x="233.50" y="312.00" width="5" height="5"/>
<rect x="235.33" y="311.00" width="5" height="5"/>
<rect x="237.17" y="310.00" width="5" height="5"/>
<rect x="239.00" y="309.00" width="5" height="5"/>
<rect x="240.83" y="308.00" width="5" height="5"/>
<rect x="242.67" y="307.00" width="5" height="5"/>
<rect x="244.50" y="306.00" width="5" height="5"/>
<rect x="246.20" y="304.50" width="5" height="5"/>
<rect x="247.90" y="303.00" width="5" height="5"/>
<rect x="249.60" y="301.50" width="5" height="5"/>
<rect x="251.30" y="300.00" width="5" height="5"/>
<rect x="253.00" y="298.50" width="5" height="5"/>
<rect x="254.70" y="297.00" width="5" height="5"/>
<rect x="256.18" y="295.12" width="5" height="5"/>
<rect x="257.65" y="293.25" width="5" height="5"/>
<rect x="259.12" y="291.38" width="5" height="5"/>
<rect x="260.60" y="289.50" width="5" height="5"/>
<rect x="261.78" y="287.60" width="5" height="5"/>
<rect x="262.96" y="285.70" width="5" height="5"/>
<rect x="264.14" y="283.80" width="5" height="5"/>
<rect x="265.32" y="281.90" width="5" height="5"/>
<rect x="266.50" y="280.00" width="5" height="5"/>
<rect x="268.00" y="278.00" width="5" height="5"/>
<rect x="269.50" y="276.00" width="5" height="5"/>
<rect x="271.00" y="274.00" width="5" height="5"/>
<rect x="272.50" y="272.00" width="5" height="5"/>
<rect x="273.63" y="269.83" width="5" height="5"/>
<rect x="274.77" y="267.67" width="5" height="5"/>
<rect x="275.90" y="265.50" width="5" height="5"/>
</g>
<g fill="#fff" stroke="#333" stroke-width="1.0">
<rect x="275.90" y="265.00" width="5" height="5"/>
</g>
<g fill="#F0964A">
<rect x="187.60" y="335.00" width="6" height="6"/>
<rect x="189.88" y="333.38" width="6" height="6"/>
<rect x="192.15" y="331.75" width="6" height="6"/>
<rect x="194.42" y="330.12" width="6" height="6"/>
<rect x="196.70" y="328.50" width="6" height="6"/>
<rect x="199.00" y="327.25" width="6" height="6"/>
<rect x="201.30" y="326.00" width="6" height="6"/>
<rect x="203.60" y="324.75" width="6" height="6"/>
<rect x="205.90" y="323.50" width="6" height="6"/>
<rect x="209.50" y="324.00" width="6" height="6"/>
<rect x="210.88" y="321.75" width="6" height="6"/>
<rect x="212.25" y="319.50" width="6" height="6"/>
<rect x="213.62" y="317.25" width="6" height="6"/>
<rect x="215.00" y="315.00" width="6" height="6"/>
<rect x="216.53" y="313.00" width="6" height="6"/>
<rect x="218.07" y="311.00" width="6" height="6"/>
<rect x="219.60" y="309.00" width="6" height="6"/>
<rect x="221.95" y="307.38" width="6" height="6"/>
<rect x="224.30" y="305.75" width="6" height="6"/>
<rect x="226.65" y="304.12" width="6" height="6"/>
<rect x="229.00" y="302.50" width="6" height="6"/>
<rect x="229.62" y="299.62" width="6" height="6"/>
<rect x="230.25" y="296.75" width="6" height="6"/>
<rect x="230.88" y="293.88" width="6" height="6"/>
<rect x="231.50" y="291.00" width="6" height="6"/>
<rect x="234.00" y="288.60" width="6" height="6"/>
<rect x="236.18" y="286.95" width="6" height="6"/>
<rect x="238.35" y="285.30" width="6" height="6"/>
<rect x="240.52" y="283.65" width="6" height="6"/>
<rect x="242.70" y="282.00" width="6" height="6"/>
<rect x="244.85" y="279.90" width="6" height="6"/>
<rect x="247.00" y="277.80" width="6" height="6"/>
<rect x="249.15" y="275.70" width="6" height="6"/>
<rect x="251.30" y="273.60" width="6" height="6"/>
<rect x="253.45" y="271.95" width="6" height="6"/>
<rect x="255.60" y="270.30" width="6" height="6"/>
<rect x="257.75" y="268.65" width="6" height="6"/>
<rect x="259.90" y="267.00" width="6" height="6"/>
<rect x="263.00" y="264.00" width="6" height="6"/>
<rect x="187.50" y="343.90" width="6" height="6"/>
<rect x="207.00" y="330.00" width="6" height="6"/>
<rect x="262.30" y="261.50" width="6" height="6"/>
<rect x="264.70" y="254.00" width="6" height="6"/>
<rect x="266.40" y="246.20" width="6" height="6"/>
<rect x="268.60" y="235.70" width="6" height="6"/>
<rect x="270.30" y="231.40" width="6" height="6"/>
<rect x="272.80" y="228.90" width="6" height="6"/>
<rect x="275.40" y="225.50" width="6" height="6"/>
</g>
<g fill="#262626">
<rect x="47.65" y="499.15" width="5.7" height="5.7"/>
<rect x="48.71" y="498.29" width="5.7" height="5.7"/>
<rect x="49.76" y="497.44" width="5.7" height="5.7"/>
<rect x="50.82" y="496.58" width="5.7" height="5.7"/>
<rect x="51.87" y="495.73" width="5.7" height="5.7"/>
<rect x="52.93" y="494.87" width="5.7" height="5.7"/>
<rect x="53.98" y="494.02" width="5.7" height="5.7"/>
<rect x="55.04" y="493.16" width="5.7" height="5.7"/>
<rect x="56.09" y="492.31" width="5.7" height="5.7"/>
<rect x="57.15" y="491.45" width="5.7" height="5.7"/>
<rect x="58.15" y="490.72" width="5.7" height="5.7"/>
<rect x="59.15" y="489.99" width="5.7" height="5.7"/>
<rect x="60.15" y="489.26" width="5.7" height="5.7"/>
<rect x="61.15" y="488.53" width="5.7" height="5.7"/>
<rect x="62.15" y="487.80" width="5.7" height="5.7"/>
<rect x="63.15" y="487.07" width="5.7" height="5.7"/>
<rect x="64.15" y="486.34" width="5.7" height="5.7"/>
<rect x="65.15" y="485.61" width="5.7" height="5.7"/>
<rect x="66.15" y="484.88" width="5.7" height="5.7"/>
<rect x="67.15" y="484.15" width="5.7" height="5.7"/>
<rect x="68.40" y="483.59" width="5.7" height="5.7"/>
<rect x="69.65" y="483.02" width="5.7" height="5.7"/>
<rect x="70.90" y="482.46" width="5.7" height="5.7"/>
<rect x="72.15" y="481.90" width="5.7" height="5.7"/>
<rect x="73.40" y="481.34" width="5.7" height="5.7"/>
<rect x="74.65" y="480.77" width="5.7" height="5.7"/>
<rect x="75.90" y="480.21" width="5.7" height="5.7"/>
<rect x="77.15" y="479.65" width="5.7" height="5.7"/>
<rect x="78.26" y="478.97" width="5.7" height="5.7"/>
<rect x="79.37" y="478.29" width="5.7" height="5.7"/>
<rect x="80.48" y="477.62" width="5.7" height="5.7"/>
<rect x="81.59" y="476.94" width="5.7" height="5.7"/>
<rect x="82.71" y="476.26" width="5.7" height="5.7"/>
<rect x="83.82" y="475.58" width="5.7" height="5.7"/>
<rect x="84.93" y="474.91" width="5.7" height="5.7"/>
<rect x="86.04" y="474.23" width="5.7" height="5.7"/>
<rect x="87.15" y="473.55" width="5.7" height="5.7"/>
<rect x="88.32" y="472.82" width="5.7" height="5.7"/>
<rect x="89.48" y="472.08" width="5.7" height="5.7"/>
<rect x="90.65" y="471.35" width="5.7" height="5.7"/>
<rect x="91.82" y="470.62" width="5.7" height="5.7"/>
<rect x="92.98" y="469.88" width="5.7" height="5.7"/>
<rect x="94.15" y="469.15" width="5.7" height="5.7"/>
<rect x="95.32" y="468.40" width="5.7" height="5.7"/>
<rect x="96.48" y="467.65" width="5.7" height="5.7"/>
<rect x="97.65" y="466.90" width="5.7" height="5.7"/>
<rect x="98.82" y="466.15" width="5.7" height="5.7"/>
<rect x="99.98" y="465.40" width="5.7" height="5.7"/>
<rect x="101.15" y="464.65" width="5.7" height="5.7"/>
<rect x="102.15" y="463.73" width="5.7" height="5.7"/>
<rect x="103.15" y="462.82" width="5.7" height="5.7"/>
<rect x="104.15" y="461.90" width="5.7" height="5.7"/>
<rect x="105.15" y="460.98" width="5.7" height="5.7"/>
<rect x="106.15" y="460.07" width="5.7" height="5.7"/>
<rect x="107.15" y="459.15" width="5.7" height="5.7"/>
<rect x="108.26" y="458.59" width="5.7" height="5.7"/>
<rect x="109.37" y="458.04" width="5.7" height="5.7"/>
<rect x="110.48" y="457.48" width="5.7" height="5.7"/>
<rect x="111.59" y="456.93" width="5.7" height="5.7"/>
<rect x="112.71" y="456.37" width="5.7" height="5.7"/>
<rect x="113.82" y="455.82" width="5.7" height="5.7"/>
<rect x="114.93" y="455.26" width="5.7" height="5.7"/>
<rect x="116.04" y="454.71" width="5.7" height="5.7"/>
<rect x="117.15" y="454.15" width="5.7" height="5.7"/>
<rect x="118.30" y="453.61" width="5.7" height="5.7"/>
<rect x="119.46" y="453.07" width="5.7" height="5.7"/>
<rect x="120.61" y="452.53" width="5.7" height="5.7"/>
<rect x="121.77" y="452.00" width="5.7" height="5.7"/>
<rect x="122.92" y="451.46" width="5.7" height="5.7"/>
<rect x="124.07" y="450.92" width="5.7" height="5.7"/>
<rect x="125.23" y="450.38" width="5.7" height="5.7"/>
<rect x="126.38" y="449.84" width="5.7" height="5.7"/>
<rect x="127.53" y="449.30" width="5.7" height="5.7"/>
<rect x="128.69" y="448.77" width="5.7" height="5.7"/>
<rect x="129.84" y="448.23" width="5.7" height="5.7"/>
<rect x="131.00" y="447.69" width="5.7" height="5.7"/>
<rect x="132.15" y="447.15" width="5.7" height="5.7"/>
<rect x="133.22" y="446.47" width="5.7" height="5.7"/>
<rect x="134.29" y="445.79" width="5.7" height="5.7"/>
<rect x="135.36" y="445.11" width="5.7" height="5.7"/>
<rect x="136.44" y="444.44" width="5.7" height="5.7"/>
<rect x="137.51" y="443.76" width="5.7" height="5.7"/>
<rect x="138.58" y="443.08" width="5.7" height="5.7"/>
<rect x="139.65" y="442.40" width="5.7" height="5.7"/>
<rect x="140.72" y="441.72" width="5.7" height="5.7"/>
<rect x="141.79" y="441.04" width="5.7" height="5.7"/>
<rect x="142.86" y="440.36" width="5.7" height="5.7"/>
<rect x="143.94" y="439.69" width="5.7" height="5.7"/>
<rect x="145.01" y="439.01" width="5.7" height="5.7"/>
<rect x="146.08" y="438.33" width="5.7" height="5.7"/>
<rect x="147.15" y="437.65" width="5.7" height="5.7"/>
<rect x="148.20" y="436.85" width="5.7" height="5.7"/>
<rect x="149.25" y="436.05" width="5.7" height="5.7"/>
<rect x="150.30" y="435.25" width="5.7" height="5.7"/>
<rect x="151.35" y="434.45" width="5.7" height="5.7"/>
<rect x="152.40" y="433.65" width="5.7" height="5.7"/>
<rect x="153.45" y="432.85" width="5.7" height="5.7"/>
<rect x="154.50" y="432.05" width="5.7" height="5.7"/>
<rect x="155.55" y="431.25" width="5.7" height="5.7"/>
<rect x="156.60" y="430.45" width="5.7" height="5.7"/>
<rect x="157.65" y="429.65" width="5.7" height="5.7"/>
</g>
<g fill="#9a9a9a">
<rect x="48.50" y="500.00" width="4.0" height="4.0"/>
<rect x="49.56" y="499.14" width="4.0" height="4.0"/>
<rect x="50.61" y="498.29" width="4.0" height="4.0"/>
<rect x="51.67" y="497.43" width="4.0" height="4.0"/>
<rect x="52.72" y="496.58" width="4.0" height="4.0"/>
<rect x="53.78" y="495.72" width="4.0" height="4.0"/>
<rect x="54.83" y="494.87" width="4.0" height="4.0"/>
<rect x="55.89" y="494.01" width="4.0" height="4.0"/>
<rect x="56.94" y="493.16" width="4.0" height="4.0"/>
<rect x="58.00" y="492.30" width="4.0" height="4.0"/>
<rect x="59.00" y="491.57" width="4.0" height="4.0"/>
<rect x="60.00" y="490.84" width="4.0" height="4.0"/>
<rect x="61.00" y="490.11" width="4.0" height="4.0"/>
<rect x="62.00" y="489.38" width="4.0" height="4.0"/>
<rect x="63.00" y="488.65" width="4.0" height="4.0"/>
<rect x="64.00" y="487.92" width="4.0" height="4.0"/>
<rect x="65.00" y="487.19" width="4.0" height="4.0"/>
<rect x="66.00" y="486.46" width="4.0" height="4.0"/>
<rect x="67.00" y="485.73" width="4.0" height="4.0"/>
<rect x="68.00" y="485.00" width="4.0" height="4.0"/>
<rect x="69.25" y="484.44" width="4.0" height="4.0"/>
<rect x="70.50" y="483.88" width="4.0" height="4.0"/>
<rect x="71.75" y="483.31" width="4.0" height="4.0"/>
<rect x="73.00" y="482.75" width="4.0" height="4.0"/>
<rect x="74.25" y="482.19" width="4.0" height="4.0"/>
<rect x="75.50" y="481.62" width="4.0" height="4.0"/>
<rect x="76.75" y="481.06" width="4.0" height="4.0"/>
<rect x="78.00" y="480.50" width="4.0" height="4.0"/>
<rect x="79.11" y="479.82" width="4.0" height="4.0"/>
<rect x="80.22" y="479.14" width="4.0" height="4.0"/>
<rect x="81.33" y="478.47" width="4.0" height="4.0"/>
<rect x="82.44" y="477.79" width="4.0" height="4.0"/>
<rect x="83.56" y="477.11" width="4.0" height="4.0"/>
<rect x="84.67" y="476.43" width="4.0" height="4.0"/>
<rect x="85.78" y="475.76" width="4.0" height="4.0"/>
<rect x="86.89" y="475.08" width="4.0" height="4.0"/>
<rect x="88.00" y="474.40" width="4.0" height="4.0"/>
<rect x="89.17" y="473.67" width="4.0" height="4.0"/>
<rect x="90.33" y="472.93" width="4.0" height="4.0"/>
<rect x="91.50" y="472.20" width="4.0" height="4.0"/>
<rect x="92.67" y="471.47" width="4.0" height="4.0"/>
<rect x="93.83" y="470.73" width="4.0" height="4.0"/>
<rect x="95.00" y="470.00" width="4.0" height="4.0"/>
<rect x="96.17" y="469.25" width="4.0" height="4.0"/>
<rect x="97.33" y="468.50" width="4.0" height="4.0"/>
<rect x="98.50" y="467.75" width="4.0" height="4.0"/>
<rect x="99.67" y="467.00" width="4.0" height="4.0"/>
<rect x="100.83" y="466.25" width="4.0" height="4.0"/>
<rect x="102.00" y="465.50" width="4.0" height="4.0"/>
<rect x="103.00" y="464.58" width="4.0" height="4.0"/>
<rect x="104.00" y="463.67" width="4.0" height="4.0"/>
<rect x="105.00" y="462.75" width="4.0" height="4.0"/>
<rect x="106.00" y="461.83" width="4.0" height="4.0"/>
<rect x="107.00" y="460.92" width="4.0" height="4.0"/>
<rect x="108.00" y="460.00" width="4.0" height="4.0"/>
<rect x="109.11" y="459.44" width="4.0" height="4.0"/>
<rect x="110.22" y="458.89" width="4.0" height="4.0"/>
<rect x="111.33" y="458.33" width="4.0" height="4.0"/>
<rect x="112.44" y="457.78" width="4.0" height="4.0"/>
<rect x="113.56" y="457.22" width="4.0" height="4.0"/>
<rect x="114.67" y="456.67" width="4.0" height="4.0"/>
<rect x="115.78" y="456.11" width="4.0" height="4.0"/>
<rect x="116.89" y="455.56" width="4.0" height="4.0"/>
<rect x="118.00" y="455.00" width="4.0" height="4.0"/>
<rect x="119.15" y="454.46" width="4.0" height="4.0"/>
<rect x="120.31" y="453.92" width="4.0" height="4.0"/>
<rect x="121.46" y="453.38" width="4.0" height="4.0"/>
<rect x="122.62" y="452.85" width="4.0" height="4.0"/>
<rect x="123.77" y="452.31" width="4.0" height="4.0"/>
<rect x="124.92" y="451.77" width="4.0" height="4.0"/>
<rect x="126.08" y="451.23" width="4.0" height="4.0"/>
<rect x="127.23" y="450.69" width="4.0" height="4.0"/>
<rect x="128.38" y="450.15" width="4.0" height="4.0"/>
<rect x="129.54" y="449.62" width="4.0" height="4.0"/>
<rect x="130.69" y="449.08" width="4.0" height="4.0"/>
<rect x="131.85" y="448.54" width="4.0" height="4.0"/>
<rect x="133.00" y="448.00" width="4.0" height="4.0"/>
<rect x="134.07" y="447.32" width="4.0" height="4.0"/>
<rect x="135.14" y="446.64" width="4.0" height="4.0"/>
<rect x="136.21" y="445.96" width="4.0" height="4.0"/>
<rect x="137.29" y="445.29" width="4.0" height="4.0"/>
<rect x="138.36" y="444.61" width="4.0" height="4.0"/>
<rect x="139.43" y="443.93" width="4.0" height="4.0"/>
<rect x="140.50" y="443.25" width="4.0" height="4.0"/>
<rect x="141.57" y="442.57" width="4.0" height="4.0"/>
<rect x="142.64" y="441.89" width="4.0" height="4.0"/>
<rect x="143.71" y="441.21" width="4.0" height="4.0"/>
<rect x="144.79" y="440.54" width="4.0" height="4.0"/>
<rect x="145.86" y="439.86" width="4.0" height="4.0"/>
<rect x="146.93" y="439.18" width="4.0" height="4.0"/>
<rect x="148.00" y="438.50" width="4.0" height="4.0"/>
<rect x="149.05" y="437.70" width="4.0" height="4.0"/>
<rect x="150.10" y="436.90" width="4.0" height="4.0"/>
<rect x="151.15" y="436.10" width="4.0" height="4.0"/>
<rect x="152.20" y="435.30" width="4.0" height="4.0"/>
<rect x="153.25" y="434.50" width="4.0" height="4.0"/>
<rect x="154.30" y="433.70" width="4.0" height="4.0"/>
<rect x="155.35" y="432.90" width="4.0" height="4.0"/>
<rect x="156.40" y="432.10" width="4.0" height="4.0"/>
<rect x="157.45" y="431.30" width="4.0" height="4.0"/>
<rect x="158.50" y="430.50" width="4.0" height="4.0"/>
</g>
<g fill="#fff" stroke="#333" stroke-width="1.0">
<rect x="158.00" y="429.30" width="5" height="5"/>
<rect x="48.50" y="501.50" width="5" height="5"/>
</g>
<g fill="#F0964A">
<rect x="48.00" y="524.00" width="6" height="6"/>
<rect x="49.80" y="522.46" width="6" height="6"/>
<rect x="51.60" y="520.92" width="6" height="6"/>
<rect x="53.40" y="519.38" width="6" height="6"/>
<rect x="55.20" y="517.84" width="6" height="6"/>
<rect x="57.00" y="516.30" width="6" height="6"/>
<rect x="58.60" y="514.74" width="6" height="6"/>
<rect x="60.20" y="513.18" width="6" height="6"/>
<rect x="61.80" y="511.62" width="6" height="6"/>
<rect x="63.40" y="510.06" width="6" height="6"/>
<rect x="65.00" y="508.50" width="6" height="6"/>
<rect x="66.33" y="507.00" width="6" height="6"/>
<rect x="67.67" y="505.50" width="6" height="6"/>
<rect x="69.00" y="504.00" width="6" height="6"/>
<rect x="71.00" y="506.00" width="6" height="6"/>
<rect x="73.20" y="505.20" width="6" height="6"/>
<rect x="75.40" y="504.40" width="6" height="6"/>
<rect x="77.60" y="503.60" width="6" height="6"/>
<rect x="79.80" y="502.80" width="6" height="6"/>
<rect x="82.00" y="502.00" width="6" height="6"/>
<rect x="84.25" y="501.00" width="6" height="6"/>
<rect x="86.50" y="500.00" width="6" height="6"/>
<rect x="88.75" y="499.00" width="6" height="6"/>
<rect x="91.00" y="498.00" width="6" height="6"/>
<rect x="91.10" y="493.90" width="6" height="6"/>
<rect x="91.62" y="491.80" width="6" height="6"/>
<rect x="92.15" y="489.70" width="6" height="6"/>
<rect x="92.67" y="487.60" width="6" height="6"/>
<rect x="93.20" y="485.50" width="6" height="6"/>
<rect x="95.50" y="478.00" width="6" height="6"/>
<rect x="97.40" y="477.20" width="6" height="6"/>
<rect x="99.30" y="476.40" width="6" height="6"/>
<rect x="101.20" y="475.60" width="6" height="6"/>
<rect x="103.10" y="474.80" width="6" height="6"/>
<rect x="105.00" y="474.00" width="6" height="6"/>
<rect x="107.00" y="473.40" width="6" height="6"/>
<rect x="109.00" y="472.80" width="6" height="6"/>
<rect x="111.00" y="472.20" width="6" height="6"/>
<rect x="113.00" y="471.60" width="6" height="6"/>
<rect x="115.00" y="471.00" width="6" height="6"/>
<rect x="114.00" y="481.50" width="6" height="6"/>
<rect x="115.40" y="479.67" width="6" height="6"/>
<rect x="116.80" y="477.83" width="6" height="6"/>
<rect x="118.20" y="476.00" width="6" height="6"/>
<rect x="119.60" y="474.17" width="6" height="6"/>
<rect x="121.00" y="472.33" width="6" height="6"/>
<rect x="122.40" y="470.50" width="6" height="6"/>
<rect x="124.32" y="469.25" width="6" height="6"/>
<rect x="126.23" y="468.00" width="6" height="6"/>
<rect x="128.15" y="466.75" width="6" height="6"/>
<rect x="130.07" y="465.50" width="6" height="6"/>
<rect x="131.98" y="464.25" width="6" height="6"/>
<rect x="133.90" y="463.00" width="6" height="6"/>
<rect x="135.47" y="461.25" width="6" height="6"/>
<rect x="137.03" y="459.50" width="6" height="6"/>
<rect x="138.60" y="457.75" width="6" height="6"/>
<rect x="140.17" y="456.00" width="6" height="6"/>
<rect x="141.73" y="454.25" width="6" height="6"/>
<rect x="143.30" y="452.50" width="6" height="6"/>
<rect x="144.68" y="450.75" width="6" height="6"/>
<rect x="146.07" y="449.00" width="6" height="6"/>
<rect x="147.45" y="447.25" width="6" height="6"/>
<rect x="148.83" y="445.50" width="6" height="6"/>
<rect x="150.22" y="443.75" width="6" height="6"/>
<rect x="151.60" y="442.00" width="6" height="6"/>
<rect x="152.88" y="440.30" width="6" height="6"/>
<rect x="154.16" y="438.60" width="6" height="6"/>
<rect x="155.44" y="436.90" width="6" height="6"/>
<rect x="156.72" y="435.20" width="6" height="6"/>
<rect x="158.00" y="433.50" width="6" height="6"/>
<rect x="47.50" y="532.80" width="6" height="6"/>
<rect x="68.70" y="511.60" width="6" height="6"/>
</g>
<g fill="#262626">
<rect x="187.15" y="511.85" width="5.7" height="5.7"/>
<rect x="188.40" y="511.26" width="5.7" height="5.7"/>
<rect x="189.65" y="510.68" width="5.7" height="5.7"/>
<rect x="190.90" y="510.09" width="5.7" height="5.7"/>
<rect x="192.15" y="509.50" width="5.7" height="5.7"/>
<rect x="193.40" y="508.91" width="5.7" height="5.7"/>
<rect x="194.65" y="508.32" width="5.7" height="5.7"/>
<rect x="195.90" y="507.74" width="5.7" height="5.7"/>
<rect x="197.15" y="507.15" width="5.7" height="5.7"/>
<rect x="198.28" y="506.61" width="5.7" height="5.7"/>
<rect x="199.40" y="506.07" width="5.7" height="5.7"/>
<rect x="200.53" y="505.54" width="5.7" height="5.7"/>
<rect x="201.65" y="505.00" width="5.7" height="5.7"/>
<rect x="202.78" y="504.46" width="5.7" height="5.7"/>
<rect x="203.90" y="503.92" width="5.7" height="5.7"/>
<rect x="205.03" y="503.39" width="5.7" height="5.7"/>
<rect x="206.15" y="502.85" width="5.7" height="5.7"/>
</g>
<g fill="#9a9a9a">
<rect x="188.00" y="512.70" width="4.0" height="4.0"/>
<rect x="189.25" y="512.11" width="4.0" height="4.0"/>
<rect x="190.50" y="511.53" width="4.0" height="4.0"/>
<rect x="191.75" y="510.94" width="4.0" height="4.0"/>
<rect x="193.00" y="510.35" width="4.0" height="4.0"/>
<rect x="194.25" y="509.76" width="4.0" height="4.0"/>
<rect x="195.50" y="509.18" width="4.0" height="4.0"/>
<rect x="196.75" y="508.59" width="4.0" height="4.0"/>
<rect x="198.00" y="508.00" width="4.0" height="4.0"/>
<rect x="199.12" y="507.46" width="4.0" height="4.0"/>
<rect x="200.25" y="506.93" width="4.0" height="4.0"/>
<rect x="201.38" y="506.39" width="4.0" height="4.0"/>
<rect x="202.50" y="505.85" width="4.0" height="4.0"/>
<rect x="203.62" y="505.31" width="4.0" height="4.0"/>
<rect x="204.75" y="504.77" width="4.0" height="4.0"/>
<rect x="205.88" y="504.24" width="4.0" height="4.0"/>
<rect x="207.00" y="503.70" width="4.0" height="4.0"/>
</g>
<g fill="#262626">
<rect x="209.15" y="498.65" width="5.7" height="5.7"/>
<rect x="210.45" y="498.43" width="5.7" height="5.7"/>
<rect x="211.75" y="498.21" width="5.7" height="5.7"/>
<rect x="213.05" y="497.99" width="5.7" height="5.7"/>
<rect x="214.35" y="497.77" width="5.7" height="5.7"/>
<rect x="215.65" y="497.55" width="5.7" height="5.7"/>
<rect x="216.95" y="497.33" width="5.7" height="5.7"/>
<rect x="218.25" y="497.11" width="5.7" height="5.7"/>
<rect x="219.55" y="496.89" width="5.7" height="5.7"/>
<rect x="220.85" y="496.67" width="5.7" height="5.7"/>
<rect x="222.15" y="496.45" width="5.7" height="5.7"/>
<rect x="223.40" y="496.07" width="5.7" height="5.7"/>
<rect x="224.65" y="495.70" width="5.7" height="5.7"/>
<rect x="225.90" y="495.32" width="5.7" height="5.7"/>
<rect x="227.15" y="494.95" width="5.7" height="5.7"/>
<rect x="228.40" y="494.57" width="5.7" height="5.7"/>
<rect x="229.65" y="494.20" width="5.7" height="5.7"/>
<rect x="230.90" y="493.82" width="5.7" height="5.7"/>
<rect x="232.15" y="493.45" width="5.7" height="5.7"/>
<rect x="233.40" y="493.07" width="5.7" height="5.7"/>
<rect x="234.65" y="492.70" width="5.7" height="5.7"/>
<rect x="235.90" y="492.32" width="5.7" height="5.7"/>
<rect x="237.15" y="491.95" width="5.7" height="5.7"/>
<rect x="238.40" y="491.57" width="5.7" height="5.7"/>
<rect x="239.65" y="491.20" width="5.7" height="5.7"/>
<rect x="240.90" y="490.82" width="5.7" height="5.7"/>
<rect x="242.15" y="490.45" width="5.7" height="5.7"/>
<rect x="243.40" y="490.12" width="5.7" height="5.7"/>
<rect x="244.65" y="489.78" width="5.7" height="5.7"/>
<rect x="245.90" y="489.44" width="5.7" height="5.7"/>
<rect x="247.15" y="489.11" width="5.7" height="5.7"/>
<rect x="248.40" y="488.77" width="5.7" height="5.7"/>
<rect x="249.65" y="488.44" width="5.7" height="5.7"/>
<rect x="250.90" y="488.11" width="5.7" height="5.7"/>
<rect x="252.15" y="487.77" width="5.7" height="5.7"/>
<rect x="253.40" y="487.44" width="5.7" height="5.7"/>
<rect x="254.65" y="487.10" width="5.7" height="5.7"/>
<rect x="255.90" y="486.76" width="5.7" height="5.7"/>
<rect x="257.15" y="486.43" width="5.7" height="5.7"/>
<rect x="258.40" y="486.09" width="5.7" height="5.7"/>
<rect x="259.65" y="485.76" width="5.7" height="5.7"/>
<rect x="260.90" y="485.43" width="5.7" height="5.7"/>
<rect x="262.15" y="485.09" width="5.7" height="5.7"/>
<rect x="263.40" y="484.75" width="5.7" height="5.7"/>
<rect x="264.65" y="484.42" width="5.7" height="5.7"/>
<rect x="265.90" y="484.08" width="5.7" height="5.7"/>
<rect x="267.15" y="483.75" width="5.7" height="5.7"/>
<rect x="268.40" y="483.32" width="5.7" height="5.7"/>
<rect x="269.65" y="482.89" width="5.7" height="5.7"/>
<rect x="270.90" y="482.46" width="5.7" height="5.7"/>
<rect x="272.15" y="482.03" width="5.7" height="5.7"/>
<rect x="273.40" y="481.60" width="5.7" height="5.7"/>
<rect x="274.65" y="481.18" width="5.7" height="5.7"/>
<rect x="275.90" y="480.75" width="5.7" height="5.7"/>
<rect x="277.15" y="480.32" width="5.7" height="5.7"/>
<rect x="278.40" y="479.89" width="5.7" height="5.7"/>
<rect x="279.65" y="479.46" width="5.7" height="5.7"/>
<rect x="280.90" y="479.03" width="5.7" height="5.7"/>
<rect x="282.15" y="478.60" width="5.7" height="5.7"/>
<rect x="283.40" y="478.17" width="5.7" height="5.7"/>
<rect x="284.65" y="477.74" width="5.7" height="5.7"/>
<rect x="285.90" y="477.31" width="5.7" height="5.7"/>
<rect x="287.15" y="476.88" width="5.7" height="5.7"/>
<rect x="288.40" y="476.45" width="5.7" height="5.7"/>
<rect x="289.65" y="476.02" width="5.7" height="5.7"/>
<rect x="290.90" y="475.60" width="5.7" height="5.7"/>
<rect x="292.15" y="475.17" width="5.7" height="5.7"/>
<rect x="293.40" y="474.74" width="5.7" height="5.7"/>
<rect x="294.65" y="474.31" width="5.7" height="5.7"/>
<rect x="295.90" y="473.88" width="5.7" height="5.7"/>
<rect x="297.15" y="473.45" width="5.7" height="5.7"/>
</g>
<g fill="#9a9a9a">
<rect x="210.00" y="499.50" width="4.0" height="4.0"/>
<rect x="211.30" y="499.28" width="4.0" height="4.0"/>
<rect x="212.60" y="499.06" width="4.0" height="4.0"/>
<rect x="213.90" y="498.84" width="4.0" height="4.0"/>
<rect x="215.20" y="498.62" width="4.0" height="4.0"/>
<rect x="216.50" y="498.40" width="4.0" height="4.0"/>
<rect x="217.80" y="498.18" width="4.0" height="4.0"/>
<rect x="219.10" y="497.96" width="4.0" height="4.0"/>
<rect x="220.40" y="497.74" width="4.0" height="4.0"/>
<rect x="221.70" y="497.52" width="4.0" height="4.0"/>
<rect x="223.00" y="497.30" width="4.0" height="4.0"/>
<rect x="224.25" y="496.93" width="4.0" height="4.0"/>
<rect x="225.50" y="496.55" width="4.0" height="4.0"/>
<rect x="226.75" y="496.18" width="4.0" height="4.0"/>
<rect x="228.00" y="495.80" width="4.0" height="4.0"/>
<rect x="229.25" y="495.43" width="4.0" height="4.0"/>
<rect x="230.50" y="495.05" width="4.0" height="4.0"/>
<rect x="231.75" y="494.68" width="4.0" height="4.0"/>
<rect x="233.00" y="494.30" width="4.0" height="4.0"/>
<rect x="234.25" y="493.93" width="4.0" height="4.0"/>
<rect x="235.50" y="493.55" width="4.0" height="4.0"/>
<rect x="236.75" y="493.18" width="4.0" height="4.0"/>
<rect x="238.00" y="492.80" width="4.0" height="4.0"/>
<rect x="239.25" y="492.43" width="4.0" height="4.0"/>
<rect x="240.50" y="492.05" width="4.0" height="4.0"/>
<rect x="241.75" y="491.68" width="4.0" height="4.0"/>
<rect x="243.00" y="491.30" width="4.0" height="4.0"/>
<rect x="244.25" y="490.97" width="4.0" height="4.0"/>
<rect x="245.50" y="490.63" width="4.0" height="4.0"/>
<rect x="246.75" y="490.30" width="4.0" height="4.0"/>
<rect x="248.00" y="489.96" width="4.0" height="4.0"/>
<rect x="249.25" y="489.62" width="4.0" height="4.0"/>
<rect x="250.50" y="489.29" width="4.0" height="4.0"/>
<rect x="251.75" y="488.96" width="4.0" height="4.0"/>
<rect x="253.00" y="488.62" width="4.0" height="4.0"/>
<rect x="254.25" y="488.29" width="4.0" height="4.0"/>
<rect x="255.50" y="487.95" width="4.0" height="4.0"/>
<rect x="256.75" y="487.62" width="4.0" height="4.0"/>
<rect x="258.00" y="487.28" width="4.0" height="4.0"/>
<rect x="259.25" y="486.94" width="4.0" height="4.0"/>
<rect x="260.50" y="486.61" width="4.0" height="4.0"/>
<rect x="261.75" y="486.28" width="4.0" height="4.0"/>
<rect x="263.00" y="485.94" width="4.0" height="4.0"/>
<rect x="264.25" y="485.61" width="4.0" height="4.0"/>
<rect x="265.50" y="485.27" width="4.0" height="4.0"/>
<rect x="266.75" y="484.94" width="4.0" height="4.0"/>
<rect x="268.00" y="484.60" width="4.0" height="4.0"/>
<rect x="269.25" y="484.17" width="4.0" height="4.0"/>
<rect x="270.50" y="483.74" width="4.0" height="4.0"/>
<rect x="271.75" y="483.31" width="4.0" height="4.0"/>
<rect x="273.00" y="482.88" width="4.0" height="4.0"/>
<rect x="274.25" y="482.45" width="4.0" height="4.0"/>
<rect x="275.50" y="482.03" width="4.0" height="4.0"/>
<rect x="276.75" y="481.60" width="4.0" height="4.0"/>
<rect x="278.00" y="481.17" width="4.0" height="4.0"/>
<rect x="279.25" y="480.74" width="4.0" height="4.0"/>
<rect x="280.50" y="480.31" width="4.0" height="4.0"/>
<rect x="281.75" y="479.88" width="4.0" height="4.0"/>
<rect x="283.00" y="479.45" width="4.0" height="4.0"/>
<rect x="284.25" y="479.02" width="4.0" height="4.0"/>
<rect x="285.50" y="478.59" width="4.0" height="4.0"/>
<rect x="286.75" y="478.16" width="4.0" height="4.0"/>
<rect x="288.00" y="477.73" width="4.0" height="4.0"/>
<rect x="289.25" y="477.30" width="4.0" height="4.0"/>
<rect x="290.50" y="476.88" width="4.0" height="4.0"/>
<rect x="291.75" y="476.45" width="4.0" height="4.0"/>
<rect x="293.00" y="476.02" width="4.0" height="4.0"/>
<rect x="294.25" y="475.59" width="4.0" height="4.0"/>
<rect x="295.50" y="475.16" width="4.0" height="4.0"/>
<rect x="296.75" y="474.73" width="4.0" height="4.0"/>
<rect x="298.00" y="474.30" width="4.0" height="4.0"/>
</g>
<g fill="#fff" stroke="#333" stroke-width="1.0">
<rect x="209.20" y="504.10" width="5" height="5"/>
<rect x="297.50" y="473.80" width="5" height="5"/>
</g>
<g fill="#F0964A">
<rect x="187.00" y="534.00" width="6" height="6"/>
<rect x="189.00" y="532.98" width="6" height="6"/>
<rect x="191.00" y="531.96" width="6" height="6"/>
<rect x="193.00" y="530.94" width="6" height="6"/>
<rect x="195.00" y="529.92" width="6" height="6"/>
<rect x="197.00" y="528.90" width="6" height="6"/>
<rect x="199.00" y="528.12" width="6" height="6"/>
<rect x="201.00" y="527.34" width="6" height="6"/>
<rect x="203.00" y="526.56" width="6" height="6"/>
<rect x="205.00" y="525.78" width="6" height="6"/>
<rect x="207.00" y="525.00" width="6" height="6"/>
<rect x="208.50" y="518.50" width="6" height="6"/>
<rect x="210.62" y="518.10" width="6" height="6"/>
<rect x="212.75" y="517.70" width="6" height="6"/>
<rect x="214.88" y="517.30" width="6" height="6"/>
<rect x="217.00" y="516.90" width="6" height="6"/>
<rect x="219.14" y="515.99" width="6" height="6"/>
<rect x="221.29" y="515.07" width="6" height="6"/>
<rect x="223.43" y="514.16" width="6" height="6"/>
<rect x="225.57" y="513.24" width="6" height="6"/>
<rect x="227.71" y="512.33" width="6" height="6"/>
<rect x="229.86" y="511.41" width="6" height="6"/>
<rect x="232.00" y="510.50" width="6" height="6"/>
<rect x="233.67" y="509.33" width="6" height="6"/>
<rect x="235.33" y="508.17" width="6" height="6"/>
<rect x="237.00" y="507.00" width="6" height="6"/>
<rect x="238.67" y="505.83" width="6" height="6"/>
<rect x="240.33" y="504.67" width="6" height="6"/>
<rect x="242.00" y="503.50" width="6" height="6"/>
<rect x="244.50" y="502.40" width="6" height="6"/>
<rect x="247.00" y="501.30" width="6" height="6"/>
<rect x="248.50" y="500.02" width="6" height="6"/>
<rect x="250.00" y="498.75" width="6" height="6"/>
<rect x="251.50" y="497.48" width="6" height="6"/>
<rect x="253.00" y="496.20" width="6" height="6"/>
<rect x="254.33" y="494.63" width="6" height="6"/>
<rect x="255.67" y="493.07" width="6" height="6"/>
<rect x="257.00" y="491.50" width="6" height="6"/>
<rect x="258.67" y="489.67" width="6" height="6"/>
<rect x="260.33" y="487.83" width="6" height="6"/>
<rect x="262.00" y="486.00" width="6" height="6"/>
<rect x="263.67" y="484.43" width="6" height="6"/>
<rect x="265.33" y="482.87" width="6" height="6"/>
<rect x="267.00" y="481.30" width="6" height="6"/>
<rect x="268.50" y="479.80" width="6" height="6"/>
<rect x="270.00" y="478.30" width="6" height="6"/>
<rect x="271.50" y="476.80" width="6" height="6"/>
<rect x="273.00" y="475.30" width="6" height="6"/>
<rect x="274.33" y="473.77" width="6" height="6"/>
<rect x="275.67" y="472.23" width="6" height="6"/>
<rect x="277.00" y="470.70" width="6" height="6"/>
<rect x="278.25" y="469.07" width="6" height="6"/>
<rect x="279.50" y="467.45" width="6" height="6"/>
<rect x="280.75" y="465.82" width="6" height="6"/>
<rect x="282.00" y="464.20" width="6" height="6"/>
<rect x="283.67" y="462.47" width="6" height="6"/>
<rect x="285.33" y="460.73" width="6" height="6"/>
<rect x="287.00" y="459.00" width="6" height="6"/>
<rect x="288.67" y="457.33" width="6" height="6"/>
<rect x="290.33" y="455.67" width="6" height="6"/>
<rect x="292.00" y="454.00" width="6" height="6"/>
<rect x="293.25" y="452.12" width="6" height="6"/>
<rect x="294.50" y="450.25" width="6" height="6"/>
<rect x="295.75" y="448.38" width="6" height="6"/>
<rect x="297.00" y="446.50" width="6" height="6"/>
<rect x="185.40" y="533.00" width="6" height="6"/>
<rect x="231.40" y="496.20" width="6" height="6"/>
</g>
</svg></body></html>
